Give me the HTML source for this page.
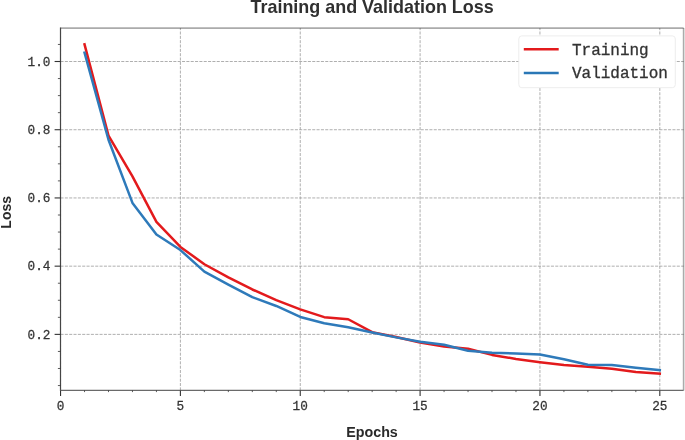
<!DOCTYPE html>
<html><head><meta charset="utf-8"><title>Training and Validation Loss</title>
<style>html,body{margin:0;padding:0;background:#fff;width:685px;height:440px;overflow:hidden}svg{display:block} .t{will-change:transform}</style>
</head><body>
<svg class="t" width="685" height="440" viewBox="0 0 685 440"><rect x="0" y="0" width="685" height="440" fill="#fff"/>
<g stroke="#9a9a9a" stroke-width="0.8" stroke-dasharray="3.04 1.30"><line x1="60.55" y1="390.4" x2="60.55" y2="28.1"/><line x1="180.40" y1="390.4" x2="180.40" y2="28.1"/><line x1="300.25" y1="390.4" x2="300.25" y2="28.1"/><line x1="420.10" y1="390.4" x2="420.10" y2="28.1"/><line x1="539.95" y1="390.4" x2="539.95" y2="28.1"/><line x1="659.80" y1="390.4" x2="659.80" y2="28.1"/><line x1="60.5" y1="334.38" x2="683.6" y2="334.38"/><line x1="60.5" y1="266.16" x2="683.6" y2="266.16"/><line x1="60.5" y1="197.94" x2="683.6" y2="197.94"/><line x1="60.5" y1="129.72" x2="683.6" y2="129.72"/><line x1="60.5" y1="61.50" x2="683.6" y2="61.50"/></g>
<line x1="60.5" y1="28.1" x2="683.6" y2="28.1" stroke="#000" stroke-opacity="0.33" stroke-width="1.6"/>
<line x1="683.6" y1="28.1" x2="683.6" y2="390.4" stroke="#000" stroke-opacity="0.33" stroke-width="1.6"/>
<line x1="60.5" y1="27.6" x2="60.5" y2="390.9" stroke="#454545" stroke-width="1.2"/>
<line x1="60.0" y1="390.4" x2="683.6" y2="390.4" stroke="#6a6a6a" stroke-width="1.2"/>
<g stroke="#333" stroke-width="1.1"><line x1="60.55" y1="390.4" x2="60.55" y2="396.0"/><line x1="180.40" y1="390.4" x2="180.40" y2="396.0"/><line x1="300.25" y1="390.4" x2="300.25" y2="396.0"/><line x1="420.10" y1="390.4" x2="420.10" y2="396.0"/><line x1="539.95" y1="390.4" x2="539.95" y2="396.0"/><line x1="659.80" y1="390.4" x2="659.80" y2="396.0"/><line x1="60.5" y1="334.38" x2="54.6" y2="334.38"/><line x1="60.5" y1="266.16" x2="54.6" y2="266.16"/><line x1="60.5" y1="197.94" x2="54.6" y2="197.94"/><line x1="60.5" y1="129.72" x2="54.6" y2="129.72"/><line x1="60.5" y1="61.50" x2="54.6" y2="61.50"/></g>
<g stroke="#333" stroke-width="0.8"><line x1="84.52" y1="390.4" x2="84.52" y2="392.1"/><line x1="108.49" y1="390.4" x2="108.49" y2="392.1"/><line x1="132.46" y1="390.4" x2="132.46" y2="392.1"/><line x1="156.43" y1="390.4" x2="156.43" y2="392.1"/><line x1="204.37" y1="390.4" x2="204.37" y2="392.1"/><line x1="228.34" y1="390.4" x2="228.34" y2="392.1"/><line x1="252.31" y1="390.4" x2="252.31" y2="392.1"/><line x1="276.28" y1="390.4" x2="276.28" y2="392.1"/><line x1="324.22" y1="390.4" x2="324.22" y2="392.1"/><line x1="348.19" y1="390.4" x2="348.19" y2="392.1"/><line x1="372.16" y1="390.4" x2="372.16" y2="392.1"/><line x1="396.13" y1="390.4" x2="396.13" y2="392.1"/><line x1="444.07" y1="390.4" x2="444.07" y2="392.1"/><line x1="468.04" y1="390.4" x2="468.04" y2="392.1"/><line x1="492.01" y1="390.4" x2="492.01" y2="392.1"/><line x1="515.98" y1="390.4" x2="515.98" y2="392.1"/><line x1="563.92" y1="390.4" x2="563.92" y2="392.1"/><line x1="587.89" y1="390.4" x2="587.89" y2="392.1"/><line x1="611.86" y1="390.4" x2="611.86" y2="392.1"/><line x1="635.83" y1="390.4" x2="635.83" y2="392.1"/><line x1="60.5" y1="385.55" x2="57.9" y2="385.55"/><line x1="60.5" y1="368.49" x2="57.9" y2="368.49"/><line x1="60.5" y1="351.44" x2="57.9" y2="351.44"/><line x1="60.5" y1="317.33" x2="57.9" y2="317.33"/><line x1="60.5" y1="300.27" x2="57.9" y2="300.27"/><line x1="60.5" y1="283.22" x2="57.9" y2="283.22"/><line x1="60.5" y1="249.11" x2="57.9" y2="249.11"/><line x1="60.5" y1="232.05" x2="57.9" y2="232.05"/><line x1="60.5" y1="215.00" x2="57.9" y2="215.00"/><line x1="60.5" y1="180.88" x2="57.9" y2="180.88"/><line x1="60.5" y1="163.83" x2="57.9" y2="163.83"/><line x1="60.5" y1="146.78" x2="57.9" y2="146.78"/><line x1="60.5" y1="112.67" x2="57.9" y2="112.67"/><line x1="60.5" y1="95.61" x2="57.9" y2="95.61"/><line x1="60.5" y1="78.56" x2="57.9" y2="78.56"/><line x1="60.5" y1="44.44" x2="57.9" y2="44.44"/></g>
<g font-family="&quot;Liberation Mono&quot;, monospace" font-size="13" fill="#333" stroke="#333" stroke-width="0.25"><text transform="translate(50.5 338.68) scale(0.98 1.03)" text-anchor="end">0.2</text><text transform="translate(50.5 270.46) scale(0.98 1.03)" text-anchor="end">0.4</text><text transform="translate(50.5 202.24) scale(0.98 1.03)" text-anchor="end">0.6</text><text transform="translate(50.5 134.02) scale(0.98 1.03)" text-anchor="end">0.8</text><text transform="translate(50.5 65.80) scale(0.98 1.03)" text-anchor="end">1.0</text><text transform="translate(60.55 409.8) scale(0.98 1.03)" text-anchor="middle">0</text><text transform="translate(180.40 409.8) scale(0.98 1.03)" text-anchor="middle">5</text><text transform="translate(300.25 409.8) scale(0.98 1.03)" text-anchor="middle">10</text><text transform="translate(420.10 409.8) scale(0.98 1.03)" text-anchor="middle">15</text><text transform="translate(539.95 409.8) scale(0.98 1.03)" text-anchor="middle">20</text><text transform="translate(659.80 409.8) scale(0.98 1.03)" text-anchor="middle">25</text></g>
<text transform="translate(372 437.4) scale(1 1.06)" text-anchor="middle" font-family="&quot;Liberation Sans&quot;, sans-serif" font-weight="bold" font-size="14.3" fill="#2a2a2a">Epochs</text>
<text transform="translate(11.4 212.3) rotate(-90)" text-anchor="middle" font-family="&quot;Liberation Sans&quot;, sans-serif" font-weight="bold" font-size="14" fill="#2a2a2a">Loss</text>
<text transform="translate(372.1 13.3) scale(0.997 1.06)" text-anchor="middle" font-family="&quot;Liberation Sans&quot;, sans-serif" font-weight="bold" font-size="18" fill="#303030">Training and Validation Loss</text>
<polyline points="84.52,44.27 108.49,135.59 132.46,176.45 156.43,221.92 180.40,246.89 204.37,264.22 228.34,277.42 252.31,289.49 276.28,300.10 300.25,309.38 324.22,317.15 348.19,319.24 372.16,332.16 396.13,336.94 420.10,342.57 444.07,346.49 468.04,348.77 492.01,354.91 515.98,358.94 539.95,362.25 563.92,365.08 587.89,366.68 611.86,368.66 635.83,372.07 659.80,373.71" fill="none" stroke="#e31a1c" stroke-width="2.5" stroke-linejoin="round" stroke-linecap="square"/>
<polyline points="84.52,52.70 108.49,139.75 132.46,202.89 156.43,234.51 180.40,250.06 204.37,271.62 228.34,284.58 252.31,297.13 276.28,305.97 300.25,316.92 324.22,323.19 348.19,327.22 372.16,332.50 396.13,337.38 420.10,341.71 444.07,344.78 468.04,350.75 492.01,352.73 515.98,353.41 539.95,354.50 563.92,359.28 587.89,364.84 611.86,365.08 635.83,367.81 659.80,370.02" fill="none" stroke="#2e7aba" stroke-width="2.5" stroke-linejoin="round" stroke-linecap="square"/>
<rect x="518.8" y="35.9" width="156.5" height="51.8" rx="3" ry="3" fill="#fff" stroke="#ebebeb" stroke-width="0.9"/>
<line x1="523.8" y1="49.3" x2="558.7" y2="49.3" stroke="#e31a1c" stroke-width="2.5"/>
<line x1="523.8" y1="73.0" x2="558.7" y2="73.0" stroke="#2a77b6" stroke-width="2.5"/>
<g font-family="&quot;Liberation Mono&quot;, monospace" font-size="16" fill="#333" stroke="#333" stroke-width="0.3"><text transform="translate(572 55.2) scale(1 1.07)">Training</text><text transform="translate(572 78.4) scale(1 1.07)">Validation</text></g></svg>
</body></html>
